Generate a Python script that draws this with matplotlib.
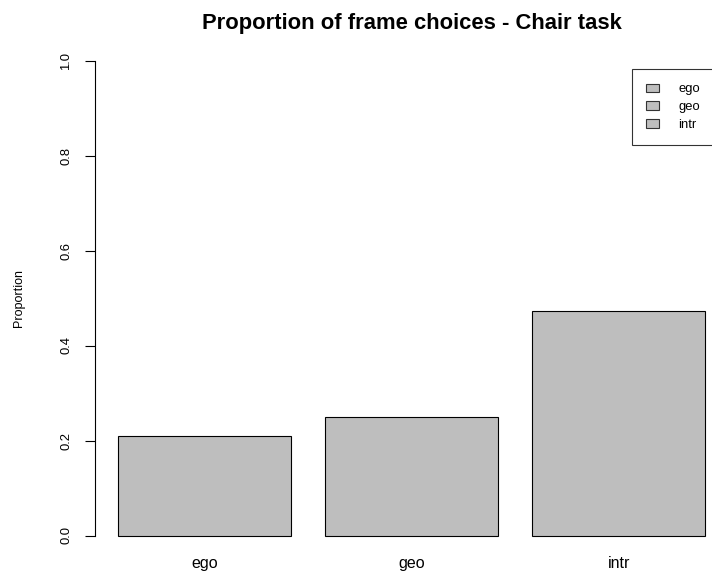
import matplotlib.pyplot as plt
from matplotlib.patches import Patch

plt.rcParams['font.family'] = ['Liberation Sans', 'DejaVu Sans']

# Data
frames = ['ego', 'geo', 'intr']
proportions = [0.209, 0.25, 0.473]
bar_color = '#BEBEBE'

W, H = 712, 573
fig = plt.figure(figsize=(W / 100, H / 100), dpi=100)

# plot region in pixels (R-style, runs past the right edge)
left_px, right_px, top_px, bottom_px = 94.5, 727.0, 41.5, 554.5
ax = fig.add_axes([left_px / W, 1 - bottom_px / H,
                   (right_px - left_px) / W, (bottom_px - top_px) / H])

# R barplot geometry: width 1, space 0.2
centers = [0.7 + 1.2 * i for i in range(len(frames))]
ax.bar(centers, proportions, width=1.0, color=bar_color,
       edgecolor='black', linewidth=0.8)

ax.set_xlim(0.0609, 3.728)
ax.set_ylim(-0.04, 1.04)

for s in ['top', 'right', 'bottom']:
    ax.spines[s].set_visible(False)
ax.spines['left'].set_bounds(0, 1)
ax.spines['left'].set_linewidth(0.8)

ax.set_yticks([0.0, 0.2, 0.4, 0.6, 0.8, 1.0])
ax.set_yticklabels(['0.0', '0.2', '0.4', '0.6', '0.8', '1.0'],
                   rotation=90, va='center', fontsize=9.4)
ax.tick_params(axis='y', length=7.2, width=0.8, pad=9)

ax.set_xticks(centers)
ax.set_xticklabels(frames, fontsize=11.5)
ax.tick_params(axis='x', length=0, pad=1)

fig.text(18.5 / W, 1 - 298 / H, 'Proportion', rotation=90,
         ha='center', va='center', fontsize=9.0)

fig.text(411.5 / W, 1 - 29.5 / H, 'Proportion of frame choices - Chair task',
         ha='center', va='baseline', fontsize=15.8, fontweight='bold')

handles = [Patch(facecolor=bar_color, edgecolor='#333333', linewidth=0.8)
           for _ in frames]
leg = ax.legend(handles, frames, loc='upper left',
                bbox_to_anchor=(632 / W, 1 - 69 / H),
                bbox_transform=fig.transFigure, borderaxespad=0,
                fontsize=9.4, frameon=True, fancybox=False,
                handlelength=1.0, handleheight=0.62, handletextpad=1.45,
                labelspacing=0.45, borderpad=1.1)
leg.get_frame().set_edgecolor('black')
leg.get_frame().set_linewidth(0.8)

fig.savefig('out.png', dpi=100)
